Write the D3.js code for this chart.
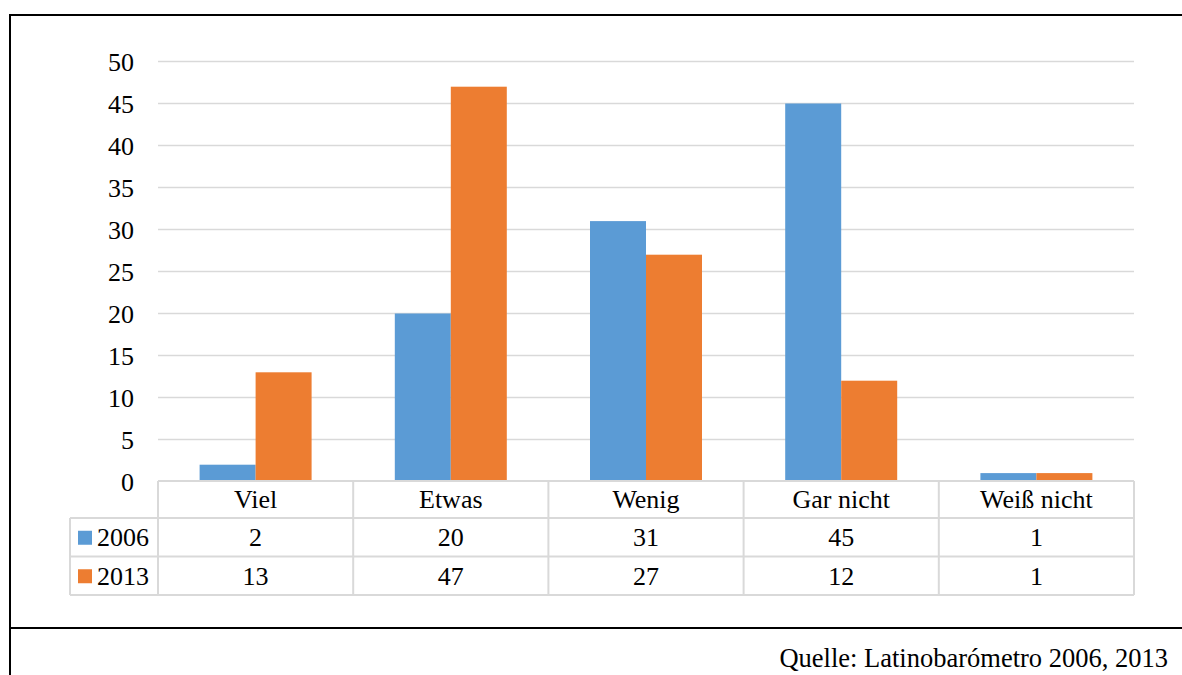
<!DOCTYPE html>
<html><head><meta charset="utf-8">
<script src="https://cdn.jsdelivr.net/npm/d3@7"></script>
<style>
html,body{margin:0;padding:0;background:#fff;}
svg{display:block;}
svg text{font-family:"Liberation Serif","Times New Roman",serif !important;fill:#000;}
</style></head>
<body>
<svg id="chart" width="1182" height="675" style="font-family:'Liberation Serif',serif"></svg>
<script>
const categories = ["Viel", "Etwas", "Wenig", "Gar nicht", "Weiß nicht"];
const seriesNames = ["2006", "2013"];
const values2006 = [2, 20, 31, 45, 1];
const values2013 = [13, 47, 27, 12, 1];
const yTicks = [0, 5, 10, 15, 20, 25, 30, 35, 40, 45, 50];
const colors = ["#5B9BD5", "#ED7D31"];
const source = "Quelle: Latinobarómetro 2006, 2013";

const seriesValues = [values2006, values2013];
const svg = d3.select("#chart");
const fs = 26;
const FF = "'Liberation Serif', 'Times New Roman', serif";

// frame
svg.append("line").attr("x1", 10).attr("x2", 1182).attr("y1", 15).attr("y2", 15).attr("stroke", "#000").attr("stroke-width", 2);
svg.append("line").attr("x1", 10).attr("x2", 10).attr("y1", 14).attr("y2", 675).attr("stroke", "#000").attr("stroke-width", 2);
svg.append("line").attr("x1", 10).attr("x2", 1182).attr("y1", 628).attr("y2", 628).attr("stroke", "#000").attr("stroke-width", 2);

const x0 = d3.scaleBand().domain(categories).range([158, 1134]).paddingInner(0).paddingOuter(0);
const x1 = d3.scaleBand().domain(seriesNames).range([0, x0.bandwidth()]).paddingInner(0).paddingOuter(0.743);
const y = d3.scaleLinear().domain([0, 50]).range([481.5, 61.5]);

// gridlines
svg.append("g").selectAll("line").data(yTicks.filter(d => d > 0)).join("line")
  .attr("x1", 158).attr("x2", 1134)
  .attr("y1", d => y(d)).attr("y2", d => y(d))
  .attr("stroke", "#D9D9D9").attr("stroke-width", 1.5);

// y axis labels
const yAxis = d3.axisLeft(y).tickValues(yTicks).tickSize(0).tickPadding(0);
const ga = svg.append("g").attr("transform", "translate(134,0)").call(yAxis)
  .attr("font-family", null).attr("font-size", null);
ga.select(".domain").remove();
ga.selectAll("text").style("font-size", fs + "px").style("font-family", FF).attr("fill", "#000").attr("dy", "0.34em");

// bars
const groups = svg.append("g").selectAll("g").data(categories).join("g")
  .attr("transform", d => `translate(${x0(d)},0)`);
groups.selectAll("rect").data((c, i) => seriesNames.map((s, k) => ({s, v: seriesValues[k][i], k}))).join("rect")
  .attr("x", d => x1(d.s)).attr("width", x1.bandwidth())
  .attr("y", d => y(d.v)).attr("height", d => y(0) - y(d.v))
  .attr("fill", d => colors[d.k]);

// data table
const tTop = 481, r1 = 518, r2 = 556.5, tBot = 595, tLeft = 70;
const tbl = svg.append("g").attr("stroke", "#D9D9D9").attr("stroke-width", 2);
tbl.append("line").attr("x1", 158).attr("x2", 1134).attr("y1", tTop).attr("y2", tTop);
[r1, r2, tBot].forEach(yy => tbl.append("line").attr("x1", tLeft).attr("x2", 1134).attr("y1", yy).attr("y2", yy));
tbl.append("line").attr("x1", tLeft).attr("x2", tLeft).attr("y1", r1).attr("y2", tBot);
const bounds = categories.map(c => x0(c)).concat([x0.range()[1]]);
bounds.forEach(bx => tbl.append("line").attr("x1", bx).attr("x2", bx).attr("y1", tTop).attr("y2", tBot));

const rowCenters = [(tTop + r1) / 2, (r1 + r2) / 2, (r2 + tBot) / 2];
svg.append("g").selectAll("text").data(categories).join("text")
  .attr("x", d => x0(d) + x0.bandwidth() / 2).attr("y", rowCenters[0])
  .attr("dy", "0.34em").attr("text-anchor", "middle").style("font-size", fs + "px").style("font-family", FF).text(d => d);

seriesNames.forEach((s, k) => {
  const g = svg.append("g");
  g.selectAll("text").data(categories).join("text")
    .attr("x", d => x0(d) + x0.bandwidth() / 2).attr("y", rowCenters[k + 1])
    .attr("dy", "0.34em").attr("text-anchor", "middle").style("font-size", fs + "px").style("font-family", FF)
    .text((d, i) => seriesValues[k][i]);
  g.append("rect").attr("x", 78).attr("y", rowCenters[k + 1] - 6.5).attr("width", 14).attr("height", 14).attr("fill", colors[k]);
  g.append("text").attr("x", 97).attr("y", rowCenters[k + 1]).attr("dy", "0.34em").style("font-size", fs + "px").style("font-family", FF).text(s);
});

svg.append("text").attr("x", 1168).attr("y", 667).attr("text-anchor", "end").style("font-size", "26.5px").style("font-family", FF).text(source);
</script>
</body></html>
